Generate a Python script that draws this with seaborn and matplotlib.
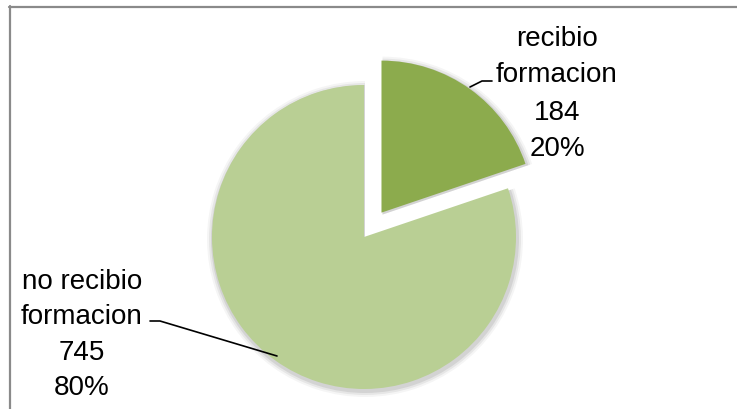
import numpy as np
import matplotlib
matplotlib.use("Agg")
import matplotlib.pyplot as plt
import seaborn as sns
from matplotlib.lines import Line2D

# datos del grafico
categorias = ["recibio\nformacion", "no recibio\nformacion"]
valores = [184, 745]
colores = ["#8cab4d", "#b9cf94"]

sns.set_style("white")
plt.rcParams["font.family"] = ["Liberation Sans", "DejaVu Sans"]

fig = plt.figure(figsize=(7.37, 4.10), dpi=100)
ax = fig.add_axes([0, 0, 1, 1])

# centro y radio en pixeles (y hacia arriba)
cx, cy, r = 364, 410 - 238, 152
sep = 30  # separacion del sector destacado (en pixeles)

total = sum(valores)
pcts = [round(v / total * 100) for v in valores]

# sombra suave
for k, a in [(6, 0.04), (4, 0.06), (2, 0.08)]:
    ax.pie(valores, startangle=90, counterclock=False, explode=[sep, 0],
           center=(cx + 1, cy - 2), radius=r + k,
           colors=["#000000", "#000000"],
           wedgeprops=dict(alpha=a, linewidth=0))

wedges, _ = ax.pie(valores, startangle=90, counterclock=False,
                   explode=[sep, 0], center=(cx, cy), radius=r,
                   colors=colores, wedgeprops=dict(linewidth=0))
ax.set_xlim(0, 737)
ax.set_ylim(0, 410)
ax.set_aspect("auto")
ax.axis("off")

# etiquetas
etiquetas = [f"{c}\n{v}\n{p}%" for c, v, p in zip(categorias, valores, pcts)]
ax.text(557, 410 - 94, etiquetas[0], ha="center", va="center",
        fontsize=20, linespacing=1.55, color="black")
ax.text(82, 410 - 335, etiquetas[1], ha="center", va="center",
        fontsize=20, linespacing=1.47, color="black")

# lineas guia
ax.plot([470, 482, 492], [410 - 88, 410 - 82, 410 - 82], color="black", lw=1.2)
ax.plot([150, 160, 277], [410 - 322, 410 - 322, 410 - 357], color="black", lw=1.2)

# borde del grafico
fig.add_artist(Line2D([9 / 737, 1], [1 - 7.5 / 410, 1 - 7.5 / 410],
                      color="#8a8a8a", lw=1.6, transform=fig.transFigure))
fig.add_artist(Line2D([9.5 / 737, 9.5 / 737], [0, 1 - 7 / 410],
                      color="#8a8a8a", lw=1.6, transform=fig.transFigure))

fig.savefig("out.png", dpi=100)
